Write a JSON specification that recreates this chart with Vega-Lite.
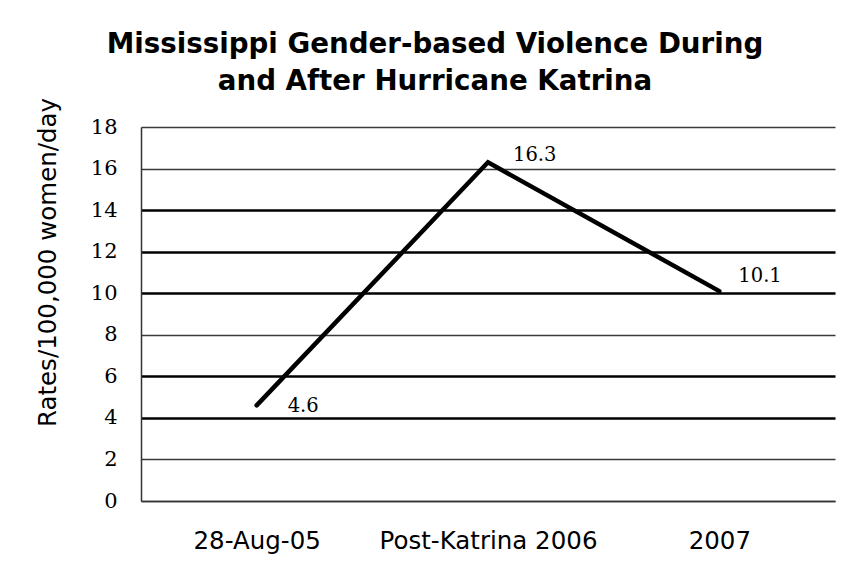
{
  "$schema": "https://vega.github.io/schema/vega-lite/v6.json",
  "width": 694,
  "height": 374,
  "autosize": "none",
  "padding": {"left": 141, "top": 127, "right": 17, "bottom": 79},
  "background": "white",
  "title": {
    "text": ["Mississippi Gender-based Violence During", "and After Hurricane Katrina"],
    "font": "DejaVu Sans",
    "fontSize": 27.7,
    "fontWeight": "bold",
    "color": "black",
    "lineHeight": 37,
    "anchor": "middle",
    "frame": "bounds",
    "baseline": "bottom",
    "offset": -26
  },
  "data": {
    "values": [
      {"period": "28-Aug-05", "rate": 4.6},
      {"period": "Post-Katrina 2006", "rate": 16.3},
      {"period": "2007", "rate": 10.1}
    ]
  },
  "encoding": {
    "x": {
      "field": "period",
      "type": "nominal",
      "sort": null,
      "axis": {
        "title": null,
        "labelFont": "DejaVu Sans",
        "labelFontSize": 24.5,
        "labelColor": "black",
        "labelAngle": 0,
        "labelPadding": 28,
        "labelBaseline": "top",
        "labelLimit": 0,
        "ticks": false,
        "domain": true,
        "domainColor": "#333333",
        "domainWidth": 1.3,
        "grid": false
      }
    },
    "y": {
      "field": "rate",
      "type": "quantitative",
      "scale": {"domain": [0, 18], "nice": false},
      "axis": {
        "title": "Rates/100,000 women/day",
        "titleFont": "DejaVu Sans",
        "titleFontSize": 24.5,
        "titleFontWeight": "normal",
        "titleColor": "black",
        "titleAngle": -90,
        "titleAlign": "center",
        "titleBaseline": "alphabetic",
        "titleX": -86,
        "titleY": 135,
        "values": [0, 2, 4, 6, 8, 10, 12, 14, 16, 18],
        "labelFont": "DejaVu Serif",
        "labelFontSize": 21,
        "labelColor": "black",
        "labelPadding": 24,
        "labelFlush": false,
        "labelOverlap": false,
        "ticks": false,
        "domain": true,
        "domainColor": "#333333",
        "domainWidth": 1.5,
        "grid": true,
        "gridOpacity": 1,
        "gridColor": {"condition": {"test": "indexof([4,6,10,12,14], datum.value) >= 0", "value": "#000000"}, "value": "#3a3a3a"},
        "gridWidth": {"condition": {"test": "indexof([4,6,10,12,14], datum.value) >= 0", "value": 2.4}, "value": 1.3}
      }
    }
  },
  "layer": [
    {
      "mark": {"type": "line", "color": "black", "strokeWidth": 4.5, "strokeJoin": "miter", "strokeCap": "round"}
    },
    {
      "transform": [{"filter": "datum.period == '28-Aug-05'"}],
      "mark": {"type": "text", "font": "DejaVu Serif", "fontSize": 19.5, "color": "black", "align": "left", "baseline": "middle", "dx": 31, "dy": 1},
      "encoding": {"text": {"field": "rate", "type": "quantitative", "format": ".1f"}}
    },
    {
      "transform": [{"filter": "datum.period == 'Post-Katrina 2006'"}],
      "mark": {"type": "text", "font": "DejaVu Serif", "fontSize": 19.5, "color": "black", "align": "left", "baseline": "middle", "dx": 25, "dy": -7},
      "encoding": {"text": {"field": "rate", "type": "quantitative", "format": ".1f"}}
    },
    {
      "transform": [{"filter": "datum.period == '2007'"}],
      "mark": {"type": "text", "font": "DejaVu Serif", "fontSize": 19.5, "color": "black", "align": "left", "baseline": "middle", "dx": 19, "dy": -15},
      "encoding": {"text": {"field": "rate", "type": "quantitative", "format": ".1f"}}
    }
  ],
  "config": {"view": {"stroke": null}}
}
